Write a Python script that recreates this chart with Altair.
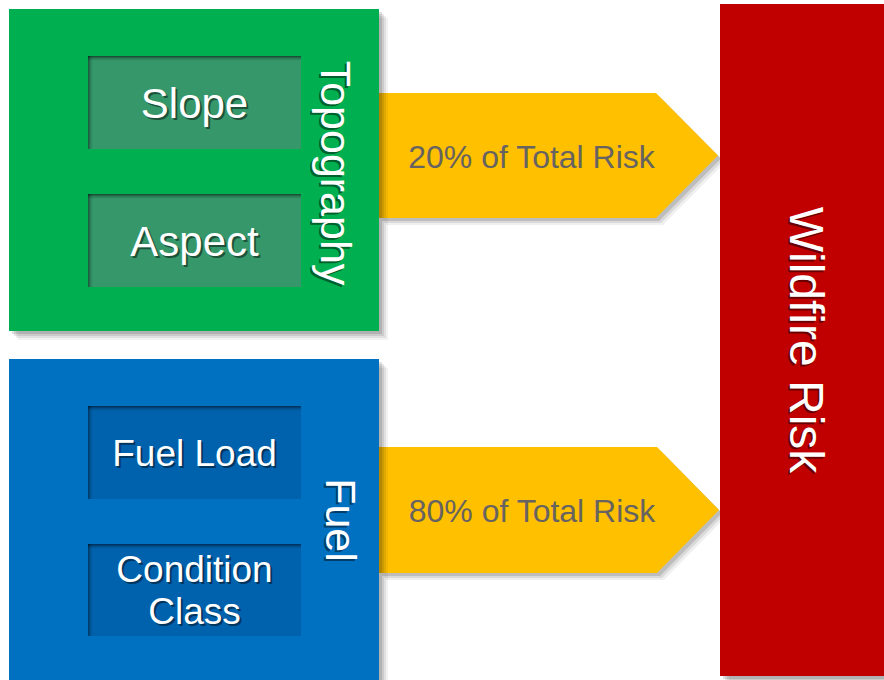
import altair as alt
import pandas as pd

W, H = 884, 680

# Factor groups and the outcome box
group_names = ["Topography", "Fuel", "Wildfire Risk"]
group_colors = ["#00B050", "#0070C0", "#C00000"]
group_x0 = [9, 9, 720]
group_x1 = [379, 379, 884]
group_y0 = [9, 359, 4]
group_y1 = [331, 700, 676]
group_label_x = [334, 339, 804]
group_label_y = [173, 520, 340]
group_font = [43, 43, 48]

# Inputs inside each group
input_names = ["Slope", "Aspect", "Fuel Load", "Condition\nClass"]
input_colors = ["#35976A", "#35976A", "#0062AD", "#0062AD"]
input_x0 = [88, 88, 88, 88]
input_x1 = [301, 301, 301, 301]
input_y0 = [56, 194, 406, 544]
input_y1 = [149, 287, 499, 636]
input_font = [42, 42, 37, 37]

# Weight arrows from each group to the outcome
arrow_share = ["20%", "80%"]
arrow_x0 = [379, 379]
arrow_xc = [656, 657]
arrow_tip = [718, 719]
arrow_y0 = [93, 447]
arrow_y1 = [218, 573]

x_scale = alt.Scale(domain=[0, W], nice=False, zero=False)
y_scale = alt.Scale(domain=[0, H], nice=False, zero=False, reverse=True)


def X(f):
    return alt.X(f, type="quantitative", scale=x_scale, axis=None)


def Y(f):
    return alt.Y(f, type="quantitative", scale=y_scale, axis=None, stack=None)


def rects(df, shadow=None):
    base = alt.Chart(df)
    if shadow is None:
        return base.mark_rect().encode(
            x=X("x0"), x2="x1", y=Y("y0"), y2="y1",
            color=alt.Color("color:N", scale=None),
        )
    dx, dy, op = shadow
    return base.transform_calculate(
        sx0=f"datum.x0 + {dx}", sx1=f"datum.x1 + {dx}",
        sy0=f"datum.y0 + {dy}", sy1=f"datum.y1 + {dy}",
    ).mark_rect(color="#000000", opacity=op).encode(
        x=X("sx0"), x2="sx1", y=Y("sy0"), y2="sy1",
    )


groups = pd.DataFrame(dict(name=group_names, color=group_colors,
                           x0=group_x0, x1=group_x1, y0=group_y0, y1=group_y1,
                           lx=group_label_x, ly=group_label_y, fs=group_font))
inputs = pd.DataFrame(dict(name=input_names, color=input_colors,
                           x0=input_x0, x1=input_x1, y0=input_y0, y1=input_y1,
                           fs=input_font))
inputs["lines"] = inputs.name.str.split("\n")
inputs["lx"] = (inputs.x0 + inputs.x1) / 2
# multi-line labels start from the first line, so lift them by half the extra lines
inputs["ly"] = ((inputs.y0 + inputs.y1) / 2 + 2
                - (inputs.lines.str.len() - 1) * inputs.fs * 1.12 / 2)


def arrow_frame(i):
    mid = (arrow_y0[i] + arrow_y1[i]) / 2
    return pd.DataFrame(dict(
        x=[arrow_x0[i], arrow_xc[i], arrow_tip[i]],
        top=[arrow_y0[i], arrow_y0[i], mid],
        bot=[arrow_y1[i], arrow_y1[i], mid],
    ))


arrow_labels = pd.DataFrame(dict(
    text=[f"{s} of Total Risk" for s in arrow_share],
    x=[(a + b) / 2 + 14 for a, b in zip(arrow_x0, arrow_xc)],
    y=[(a + b) / 2 + 2 for a, b in zip(arrow_y0, arrow_y1)],
))

layers = []

# arrow shadows and bodies
for i in range(len(arrow_share)):
    af = arrow_frame(i)
    for dx, dy, op in [(7, 7, 0.06), (5, 5, 0.09), (3, 3, 0.13)]:
        layers.append(alt.Chart(af).transform_calculate(
            sx=f"datum.x + {dx}", st=f"datum.top + {dy}", sb=f"datum.bot + {dy}"
        ).mark_area(color="#000000", opacity=op).encode(
            x=X("sx"), y=Y("st"), y2="sb"))
    layers.append(alt.Chart(af).mark_area(color="#FFC000", opacity=1).encode(
        x=X("x"), y=Y("top"), y2="bot"))

# group box shadows, then boxes
for dx, dy, op in [(9, 9, 0.05), (7, 7, 0.07), (5, 5, 0.09), (3, 3, 0.12)]:
    layers.append(rects(groups, (dx, dy, op)))
layers.append(rects(groups))

# input boxes with a soft inner shadow along the top and left edges
layers.append(rects(inputs))
for k, op in enumerate([0.22, 0.15, 0.10, 0.06, 0.03]):
    edge_top = inputs.assign(y1=inputs.y0 + k + 1)
    edge_left = inputs.assign(x1=inputs.x0 + k + 1)
    layers.append(rects(edge_top, (0, 0, op)))
    layers.append(rects(edge_left, (0, 0, op * 0.8)))

# input labels, white with a dark drop shadow
for fs in sorted(set(input_font)):
    sub = inputs[inputs.fs == fs]
    for dx, dy, col, op in [(2, 2, "#000000", 0.45), (0, 0, "#FFFFFF", 1.0)]:
        layers.append(alt.Chart(sub).transform_calculate(
            tx=f"datum.lx + {dx}", ty=f"datum.ly + {dy}"
        ).mark_text(font="Liberation Sans", fontSize=fs, align="center",
                    baseline="middle", color=col, opacity=op,
                    lineHeight=fs * 1.12).encode(
            x=X("tx"), y=Y("ty"), text="lines"))

# group labels, rotated to read downwards
for fs in sorted(set(group_font)):
    sub = groups[groups.fs == fs]
    for dx, dy, col, op in [(-2, 2, "#000000", 0.45), (0, 0, "#FFFFFF", 1.0)]:
        layers.append(alt.Chart(sub).transform_calculate(
            tx=f"datum.lx + {dx}", ty=f"datum.ly + {dy}"
        ).mark_text(font="Liberation Sans", fontSize=fs, align="center",
                    baseline="middle", angle=90, color=col, opacity=op).encode(
            x=X("tx"), y=Y("ty"), text="name:N"))

layers.append(alt.Chart(arrow_labels).mark_text(
    font="Liberation Sans", fontSize=32, align="center", baseline="middle",
    color="#676360").encode(x=X("x"), y=Y("y"), text="text:N"))

chart = alt.layer(*layers).properties(
    width=W, height=H, padding=0, autosize=alt.AutoSizeParams(type="none"),
    background="#FFFFFF",
).configure_view(stroke=None)

chart.save("out.html", embed_options={"renderer": "svg", "actions": False})
